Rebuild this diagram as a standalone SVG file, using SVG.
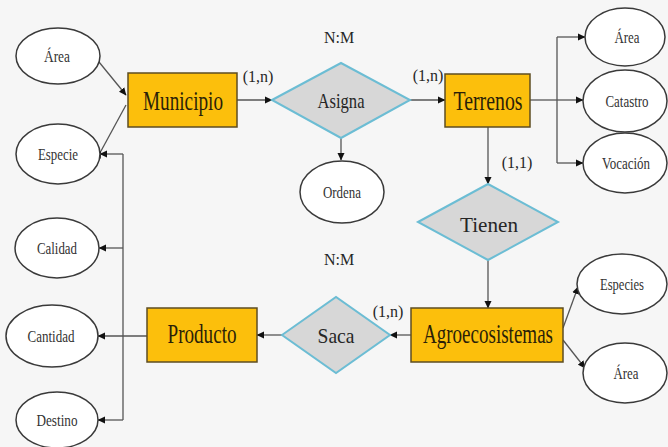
<svg xmlns="http://www.w3.org/2000/svg" width="668" height="447" viewBox="0 0 668 447">
<style>
.bg{fill:#f6f6f6}
.ent rect{fill:#fcbf0c;stroke:#5e4d22;stroke-width:1.5}
.rel polygon{fill:#d7d7d7;stroke:#6cbdd4;stroke-width:2}
.att ellipse{fill:#ffffff;stroke:#3a3a3a;stroke-width:1.5}
text{font-family:"Times New Roman","Liberation Serif",serif;fill:#262626;text-anchor:middle}
.et{font-size:27px;fill:#2b1f08}
.rt{font-size:21px}
.at{font-size:16px;fill:#333}
.lb{font-size:16px}
#connectors path{fill:none;stroke:#555;stroke-width:1.3}
</style>
<defs>
<marker id="ah" markerWidth="8" markerHeight="8" refX="7" refY="4" orient="auto" markerUnits="userSpaceOnUse">
<path d="M0,0.5 L7.5,4 L0,7.5 z" fill="#111"/>
</marker>
</defs>
<rect class="bg" x="0" y="0" width="668" height="447"/>

<g id="connectors">
<path d="M99,62 L126,95" marker-end="url(#ah)"/>
<path d="M101,151 L126,105" marker-start="url(#ah)"/>
<path d="M237,100 H272" marker-end="url(#ah)"/>
<path d="M410,100 H445" marker-end="url(#ah)"/>
<path d="M341,138 V160" marker-end="url(#ah)"/>
<path d="M530,100 H557"/>
<path d="M557,37 V163"/>
<path d="M557,37 H585" marker-end="url(#ah)"/>
<path d="M557,100 H583" marker-end="url(#ah)"/>
<path d="M557,163 H583" marker-end="url(#ah)"/>
<path d="M488,127 V184" marker-end="url(#ah)"/>
<path d="M488,260 V308" marker-end="url(#ah)"/>
<path d="M563,328 L578,287" marker-end="url(#ah)"/>
<path d="M563,340 L585,368" marker-end="url(#ah)"/>
<path d="M411,335 H390" marker-end="url(#ah)"/>
<path d="M282,335 H257" marker-end="url(#ah)"/>
<path d="M123,154 V420"/>
<path d="M123,154 H100" marker-end="url(#ah)"/>
<path d="M123,248 H99" marker-end="url(#ah)"/>
<path d="M147,336 H98" marker-end="url(#ah)"/>
<path d="M123,420 H98" marker-end="url(#ah)"/>
</g>

<g id="labels">
<text class="lb" x="339" y="43">N:M</text>
<text class="lb" x="339" y="265">N:M</text>
<text class="lb" x="258" y="82">(1,n)</text>
<text class="lb" x="428" y="81">(1,n)</text>
<text class="lb" x="517" y="168">(1,1)</text>
<text class="lb" x="388" y="317">(1,n)</text>
</g>

<g id="municipio" class="ent"><rect x="128" y="73" width="109" height="54"/><text class="et" x="183" y="110" textLength="80" lengthAdjust="spacingAndGlyphs">Municipio</text></g>
<g id="terrenos" class="ent"><rect x="445" y="74" width="85" height="53"/><text class="et" x="488" y="110" textLength="69" lengthAdjust="spacingAndGlyphs">Terrenos</text></g>
<g id="producto" class="ent"><rect x="147" y="308" width="110" height="54"/><text class="et" x="202" y="343" textLength="69" lengthAdjust="spacingAndGlyphs">Producto</text></g>
<g id="agroecosistemas" class="ent"><rect x="411" y="308" width="152" height="54"/><text class="et" x="488" y="343" textLength="130" lengthAdjust="spacingAndGlyphs">Agroecosistemas</text></g>

<g id="asigna" class="rel"><polygon points="272,100 341,63 410,100 341,138"/><text class="rt" x="341" y="108" textLength="47" lengthAdjust="spacingAndGlyphs">Asigna</text></g>
<g id="tienen" class="rel"><polygon points="418,222 488,184 558,222 488,260"/><text class="rt" x="489" y="232" font-size="25" textLength="58" lengthAdjust="spacingAndGlyphs">Tienen</text></g>
<g id="saca" class="rel"><polygon points="282,335 336,297 390,335 336,373"/><text class="rt" x="336" y="343" textLength="37" lengthAdjust="spacingAndGlyphs">Saca</text></g>

<g id="area1" class="att"><ellipse cx="58" cy="56" rx="42" ry="28"/><text class="at" x="57" y="62" textLength="26" lengthAdjust="spacingAndGlyphs">Área</text></g>
<g id="especie" class="att"><ellipse cx="58" cy="154" rx="42" ry="30"/><text class="at" x="58" y="160" textLength="40" lengthAdjust="spacingAndGlyphs">Especie</text></g>
<g id="calidad" class="att"><ellipse cx="57" cy="248" rx="42" ry="30"/><text class="at" x="57" y="254" textLength="40" lengthAdjust="spacingAndGlyphs">Calidad</text></g>
<g id="cantidad" class="att"><ellipse cx="52" cy="336" rx="46" ry="31"/><text class="at" x="51" y="342" textLength="47" lengthAdjust="spacingAndGlyphs">Cantidad</text></g>
<g id="destino" class="att"><ellipse cx="57" cy="420" rx="41" ry="28"/><text class="at" x="57" y="426" textLength="41" lengthAdjust="spacingAndGlyphs">Destino</text></g>
<g id="ordena" class="att"><ellipse cx="342" cy="192" rx="42" ry="31"/><text class="at" x="342" y="198" textLength="38" lengthAdjust="spacingAndGlyphs">Ordena</text></g>
<g id="area2" class="att"><ellipse cx="625" cy="37" rx="40" ry="29"/><text class="at" x="627" y="43" textLength="25" lengthAdjust="spacingAndGlyphs">Área</text></g>
<g id="catastro" class="att"><ellipse cx="625" cy="101" rx="42" ry="31"/><text class="at" x="627" y="107" textLength="43" lengthAdjust="spacingAndGlyphs">Catastro</text></g>
<g id="vocacion" class="att"><ellipse cx="625" cy="163" rx="42" ry="30"/><text class="at" x="626" y="169" textLength="48" lengthAdjust="spacingAndGlyphs">Vocación</text></g>
<g id="especies" class="att"><ellipse cx="622" cy="284" rx="45" ry="30"/><text class="at" x="622" y="290" textLength="44" lengthAdjust="spacingAndGlyphs">Especies</text></g>
<g id="area3" class="att"><ellipse cx="625" cy="373" rx="42" ry="30"/><text class="at" x="626" y="379" textLength="25" lengthAdjust="spacingAndGlyphs">Área</text></g>
</svg>
